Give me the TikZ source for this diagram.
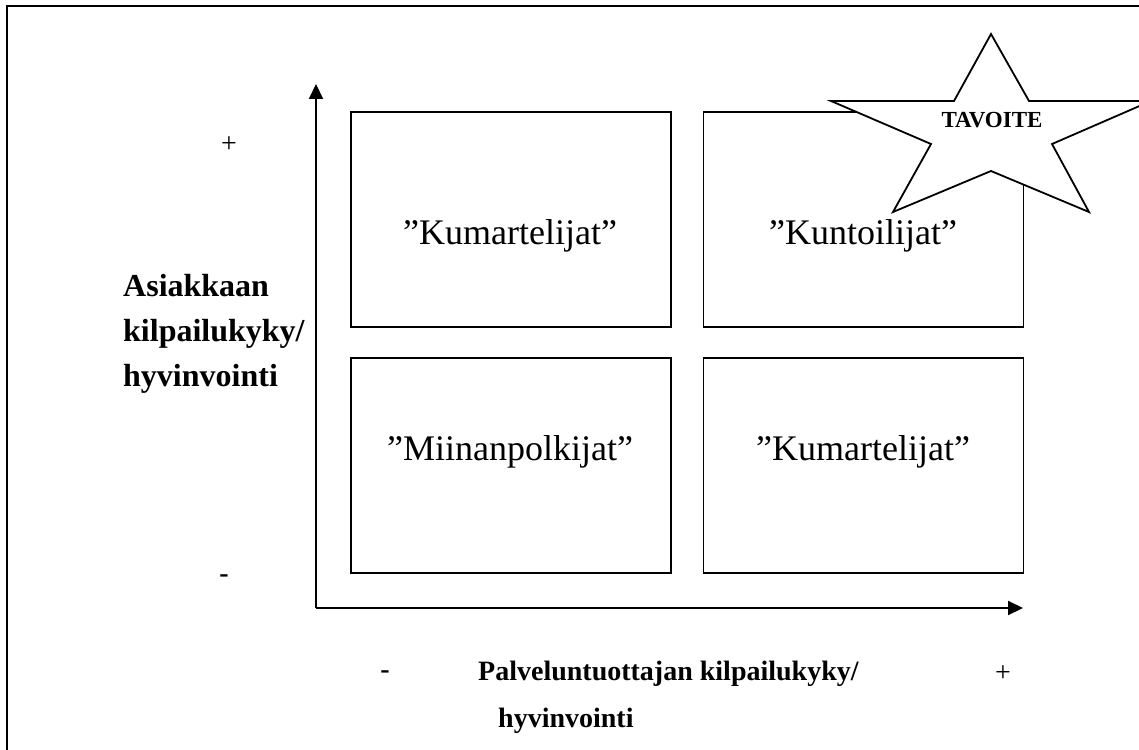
\documentclass[tikz,border=0pt]{standalone}
\usepackage{fontspec}
\setmainfont{Liberation Serif}
\usetikzlibrary{arrows.meta}
\begin{document}
\begin{tikzpicture}[x=1pt,y=-1pt,
  frameline/.style={line width=2.2pt},
  axisline/.style={line width=2pt,-{Triangle[length=15pt,width=14pt]}},
  quad/.style={draw,line width=1.8pt,minimum width=320pt,minimum height=215pt,inner sep=0pt},
  quadtext/.style={font=\fontsize{36}{43}\selectfont},
  axtext/.style={font=\bfseries\fontsize{28}{34}\selectfont,inner sep=0pt},
  sidetext/.style={font=\bfseries\fontsize{32}{38}\selectfont,inner sep=0pt},
  signtext/.style={font=\fontsize{28}{34}\selectfont,inner sep=0pt},
  goal/.style={draw,line width=1.8pt,fill=white,line join=miter}]
\useasboundingbox (0,0) rectangle (1139,749);

% outer frame (top and left edges)
\draw[frameline] (7,760) -- (7,6) -- (1150,6);

% the four quadrants
\node[quad] (q11) at (511,219.5) {};
\node[quad] (q12) at (863.5,219.5) {};
\node[quad] (q21) at (511,465.5) {};
\node[quad] (q22) at (863.5,465.5) {};

\node[quadtext] (t11) at (510,236) {”Kumartelijat”};
\node[quadtext] (t12) at (863,236) {”Kuntoilijat”};
\node[quadtext] (t21) at (510,452) {”Miinanpolkijat”};
\node[quadtext] (t22) at (863,452) {”Kumartelijat”};

% axes
\coordinate (o) at (316,608);
\coordinate (ytip) at (316,84);
\coordinate (xtip) at (1023,608);
\draw[axisline] (o) -- (ytip);
\draw[axisline] (o) -- (xtip);

% goal star
\draw[goal] (991,34) -- (1029,101) -- (1151,101) -- (1052,144) -- (1089,212)
  -- (991,171) -- (893,212) -- (931,144) -- (831,101) -- (954,101) -- cycle;
\node[font=\bfseries\fontsize{23}{27}\selectfont,inner sep=0pt] (goal) at (992,120) {TAVOITE};

% vertical axis labels
\node[sidetext,anchor=base west] (yl1) at (123,296) {Asiakkaan};
\node[sidetext,anchor=base west] (yl2) at (123,341) {kilpailukyky/};
\node[sidetext,anchor=base west] (yl3) at (123,386) {hyvinvointi};
\node[signtext] (yplus) at (229,145) {+};
\node[axtext] (yminus) at (224,579) {-};

% horizontal axis labels
\node[axtext] (xminus) at (385,675) {-};
\node[axtext,anchor=base west] (xl1) at (478,680) {Palveluntuottajan kilpailukyky/};
\node[axtext,anchor=base west] (xl2) at (498,727) {hyvinvointi};
\node[signtext] (xplus) at (1003,674) {+};
\end{tikzpicture}
\end{document}
